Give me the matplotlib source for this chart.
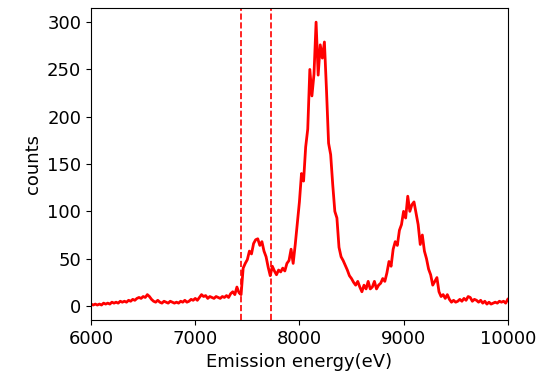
import numpy as np
import matplotlib
matplotlib.use("Agg")
import matplotlib.pyplot as plt

energy_start, energy_stop, energy_step = 6000, 10000, 20
counts = [
    2, 1, 2, 1, 2,
    1, 3, 2, 3, 2,
    4, 3, 4, 3, 5,
    4, 5, 4, 6, 5,
    7, 6, 8, 9, 8,
    10, 9, 12, 10, 7,
    5, 4, 6, 4, 3,
    5, 4, 3, 5, 4,
    3, 4, 3, 5, 4,
    6, 4, 5, 7, 6,
    8, 6, 9, 12, 10,
    11, 8, 10, 9, 8,
    10, 9, 8, 10, 9,
    11, 9, 13, 15, 12,
    20, 14, 12, 40, 45,
    49, 58, 55, 66, 70,
    71, 64, 68, 58, 52,
    41, 32, 42, 37, 33,
    38, 36, 40, 37, 45,
    48, 60, 45, 65, 88,
    110, 140, 132, 168, 187,
    250, 222, 245, 300, 244,
    276, 262, 279, 228, 172,
    160, 128, 100, 93, 62,
    52, 48, 43, 38, 32,
    29, 25, 22, 26, 20,
    15, 22, 18, 26, 18,
    20, 26, 18, 22, 24,
    29, 26, 35, 47, 42,
    60, 68, 64, 80, 86,
    100, 93, 116, 100, 107,
    110, 98, 86, 65, 75,
    58, 50, 39, 33, 22,
    26, 30, 15, 10, 12,
    8, 12, 7, 4, 6,
    4, 5, 7, 5, 8,
    6, 10, 9, 5, 7,
    6, 4, 6, 3, 5,
    2, 4, 2, 3, 4,
    3, 5, 4, 5, 3,
    7,
]
window_lines = [7440, 7725]
x_ticks = [6000, 7000, 8000, 9000, 10000]
y_ticks = [0, 50, 100, 150, 200, 250, 300]

energy = np.arange(energy_start, energy_stop + 1, energy_step)
assert len(energy) == len(counts)

fig = plt.figure(figsize=(5.39, 3.78), dpi=100)
ax = fig.add_axes([0.169, 0.153, 0.773, 0.826])
ax.plot(energy, counts, color="red", lw=2.0)
for xv in window_lines:
    ax.axvline(xv, color="red", ls="--", lw=1.2)
ax.set_xlim(6000, 10000)
ax.set_ylim(-15, 315)
ax.set_xticks(x_ticks)
ax.set_yticks(y_ticks)
ax.tick_params(labelsize=13)
ax.set_xlabel("Emission energy(eV)", fontsize=13)
ax.set_ylabel("counts", fontsize=13)
fig.savefig("out.png", dpi=100)
